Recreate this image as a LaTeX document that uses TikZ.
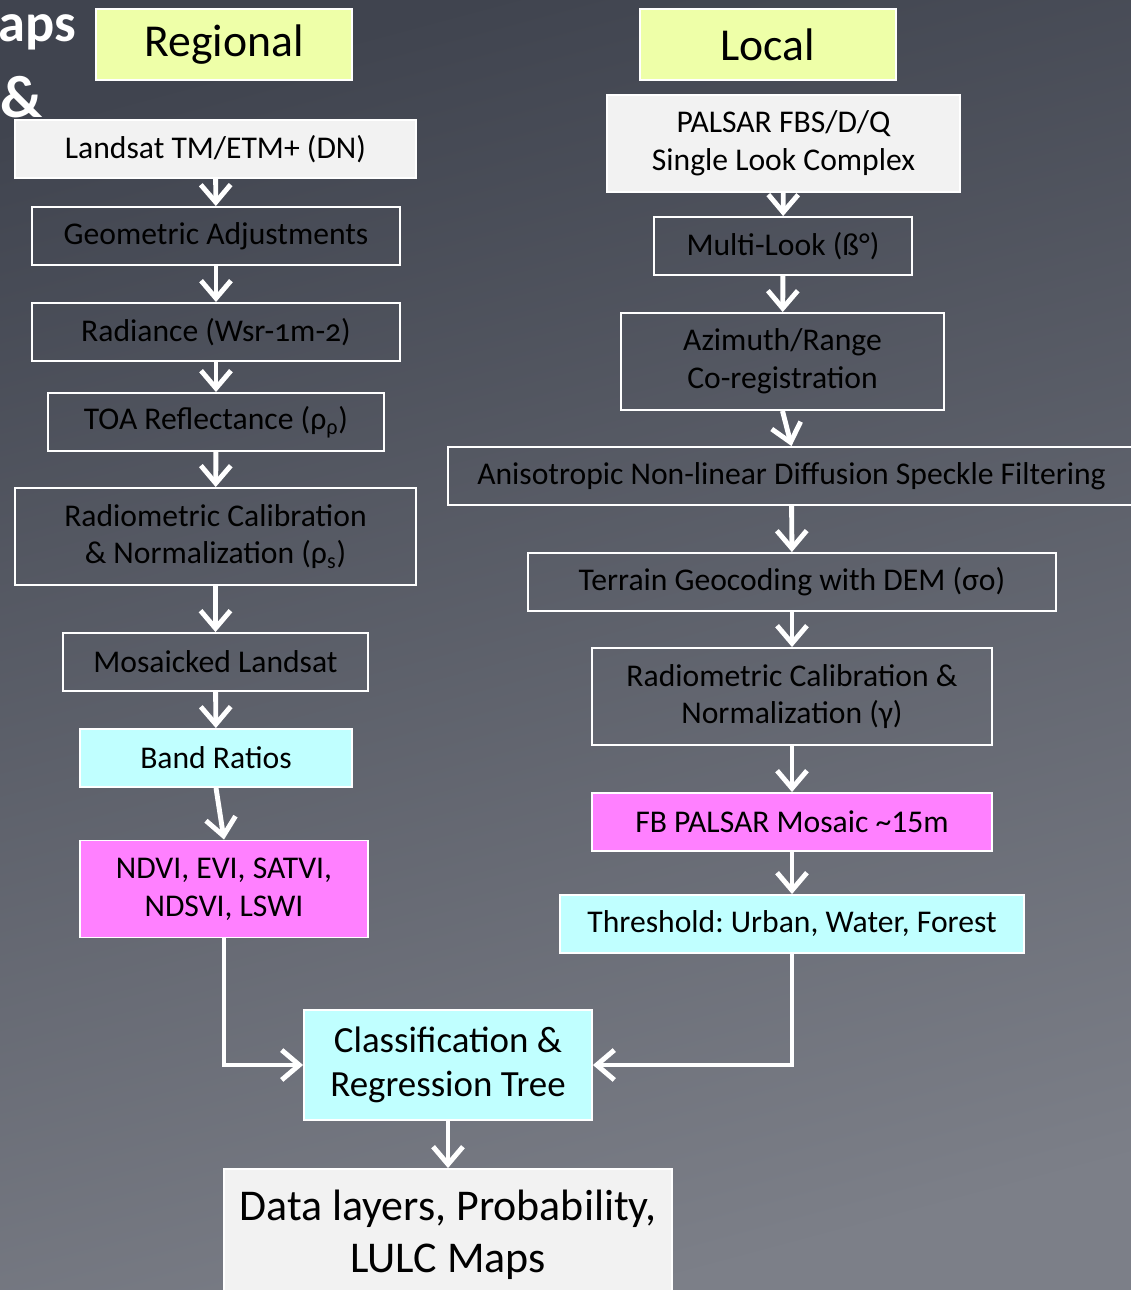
\documentclass[tikz,border=0pt]{standalone}
\usepackage{fontspec}
\setmainfont{Carlito}
\newfontfamily\oldnum[Numbers=OldStyle]{Carlito}
\usetikzlibrary{arrows.meta}
\frenchspacing
\definecolor{bgtop}{HTML}{40444F}
\definecolor{bgbot}{HTML}{7C7F88}
\definecolor{lime}{HTML}{EEFFA8}
\definecolor{paper}{HTML}{F2F2F2}
\definecolor{aqua}{HTML}{C0FFFF}
\definecolor{pink}{HTML}{FF80FF}
\tikzset{
  box/.style={draw=white, line width=1.1pt, align=center, inner sep=0pt,
    minimum height=1.16cm, font=\fontsize{18}{21.5}\selectfont},
  tall/.style={minimum height=1.94cm},
  head/.style={box, fill=lime, minimum height=1.42cm, minimum width=5.12cm,
    font=\fontsize{26}{30}\selectfont},
  flow/.style={draw=white, line width=2.8pt, ->}
}
\begin{document}
\begin{tikzpicture}[x=0.02cm,y=-0.02cm,>={Straight Barb[length=10pt,width=17pt]}]
          % background
          \useasboundingbox (0,0) rectangle (1131,1290);
          \shade[top color=bgtop, bottom color=bgbot, shading angle=15] (-20,-20) rectangle (1151,1310);
          % title remains
          \node[anchor=base west, text=white, inner sep=0, font=\fontsize{31}{31}\selectfont\bfseries] (ttl) at (-2,42) {aps};
          \node[anchor=base west, text=white, inner sep=0, font=\fontsize{34}{34}\selectfont\bfseries] (amp) at (0,118) {\&};
          % regional column
          \node[head] (reg) at (224,44.5) {Regional};
          \node[box, fill=paper, minimum width=8.02cm] (lst) at (215.5,149) {Landsat TM/ETM+ (DN)};
          \node[box, minimum width=7.36cm] (geo) at (216,236) {Geometric Adjustments};
          \node[box, minimum width=7.36cm] (rad) at (216,332) {Radiance (Wsr-{\oldnum 1}m-{\oldnum 2})};
          \node[box, minimum width=6.72cm] (toa) at (216,422) {TOA Reflectance (ρ\textsubscript{ρ})};
          \node[box, tall, minimum width=8.02cm] (rcal) at (215.5,536.5) {Radiometric Calibration\\\& Normalization (ρ\textsubscript{s})};
          \node[box, minimum width=6.1cm] (mos) at (215.5,662) {Mosaicked Landsat};
          \node[box, fill=aqua, minimum width=5.44cm] (band) at (216,758) {Band Ratios};
          \node[box, tall, fill=pink, minimum width=5.76cm] (ndvi) at (224,889) {NDVI, EVI, SATVI,\\NDSVI, LSWI};
          % local column
          \node[head] (loc) at (768,44.5) {Local};
          \node[box, tall, fill=paper, minimum width=7.06cm] (sar) at (783.5,143.5) {PALSAR FBS/D/Q\\Single Look Complex};
          \node[box, minimum width=5.16cm] (mlk) at (783,246) {Multi-Look (ß°)};
          \node[box, tall, minimum width=6.46cm] (azr) at (782.5,361.5) {Azimuth/Range\\Co-registration};
          \node[box, minimum width=13.74cm] (spk) at (791.5,476) {Anisotropic Non-linear Diffusion Speckle Filtering};
          \node[box, minimum width=10.56cm] (geoc) at (792,582) {Terrain Geocoding with DEM (σo)};
          \node[box, tall, minimum width=8cm] (lcal) at (792,696.5) {Radiometric Calibration \&\\Normalization (γ)};
          \node[box, fill=pink, minimum width=8cm] (fbm) at (792,822) {FB PALSAR Mosaic \textasciitilde15m};
          \node[box, fill=aqua, minimum width=9.28cm] (thr) at (792,924) {Threshold: Urban, Water, Forest};
          % merge
          \node[box, fill=aqua, minimum width=5.76cm, minimum height=2.2cm, font=\fontsize{21}{25}\selectfont] (cart) at (448,1065) {Classification \&\\Regression Tree};
          \node[box, fill=paper, minimum width=8.96cm, minimum height=2.62cm, font=\fontsize{25}{29.5}\selectfont] (out) at (448,1234.5) {Data layers, Probability,\\LULC Maps};
          % regional arrows
          \draw[flow] (lst) -- (geo);
          \draw[flow] (geo) -- (rad);
          \draw[flow] (rad) -- (toa);
          \draw[flow] (toa) -- (rcal);
          \draw[flow] (rcal) -- (mos);
          \draw[flow] (mos) -- (band);
          \draw[flow] (band.south) -- (ndvi.north);
          % local arrows
          \draw[flow] (sar) -- (mlk);
          \draw[flow] (mlk) -- (azr);
          \draw[flow] (azr.south) -- (spk.north);
          \draw[flow] (spk) -- (geoc);
          \draw[flow] (geoc) -- (lcal);
          \draw[flow] (lcal) -- (fbm);
          \draw[flow] (fbm) -- (thr);
          % into the tree
          \draw[flow] (ndvi.south) |- (cart.west);
          \draw[flow] (thr.south) |- (cart.east);
          \draw[flow] (cart) -- (out);
        \end{tikzpicture}
\end{document}
